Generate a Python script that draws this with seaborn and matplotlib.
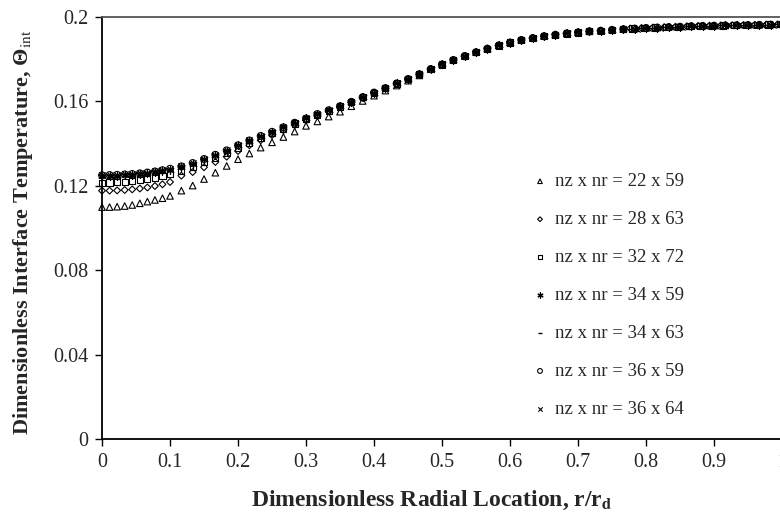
import matplotlib
import numpy as np
import pandas as pd

matplotlib.use("Agg")
import matplotlib.pyplot as plt
import seaborn as sns
from matplotlib.ticker import FixedLocator, FuncFormatter


# radial grid shared by all meshes up to r/rd ~ 0.77
r_near = [0.0, 0.0111, 0.0222, 0.0333, 0.0444, 0.0556, 0.0667, 0.0778, 0.0889, 0.1,
          0.1167, 0.1333, 0.15, 0.1667, 0.1833, 0.2, 0.2167, 0.2333, 0.25, 0.2667,
          0.2833, 0.3, 0.3167, 0.3333, 0.35, 0.3667, 0.3833, 0.4, 0.4167, 0.4333,
          0.45, 0.4667]
r_far = [0.4833, 0.5, 0.5167, 0.5333, 0.55, 0.5667, 0.5833, 0.6, 0.6167, 0.6333,
         0.65, 0.6667, 0.6833, 0.7, 0.7167, 0.7333, 0.75, 0.7667]

# near-edge points differ per mesh
edge_r_59 = [0.7833, 0.8, 0.8167, 0.8333, 0.85, 0.8667, 0.8833, 0.9, 0.9167, 0.9333,
             0.95, 0.9667, 0.9833, 1.0]
edge_r_63 = [0.7767, 0.7933, 0.81, 0.8267, 0.8433, 0.86, 0.8767, 0.8933, 0.91, 0.9267,
             0.9433, 0.96, 0.9767, 0.9933]
edge_r_72 = [0.78, 0.7967, 0.8133, 0.83, 0.8467, 0.8633, 0.88, 0.8967, 0.9133, 0.93,
             0.9467, 0.9633, 0.98, 0.9967]
edge_r_64 = [0.7867, 0.8033, 0.82, 0.8367, 0.8533, 0.87, 0.8867, 0.9033, 0.92, 0.9367,
             0.9533, 0.97, 0.9867, 1.0]

theta_far = [0.1753, 0.1775, 0.1796, 0.1815, 0.1833, 0.1850, 0.1865, 0.1879, 0.1891, 0.1900,
             0.1909, 0.1916, 0.1922, 0.1927, 0.1932, 0.1935, 0.1939, 0.1942]
theta_edge = [0.1945, 0.1948, 0.1950, 0.1952, 0.1954, 0.1956, 0.1958, 0.1959, 0.1960, 0.1961,
              0.1962, 0.1963, 0.1964, 0.1965]

theta_22x59 = [0.1099, 0.1099, 0.1101, 0.1104, 0.1109, 0.1117, 0.1125, 0.1133, 0.1141, 0.1152,
               0.1177, 0.1201, 0.1232, 0.1262, 0.1294, 0.1326, 0.1353, 0.1381, 0.1406, 0.1431,
               0.1457, 0.1484, 0.1505, 0.1528, 0.1551, 0.1577, 0.1602, 0.1627, 0.1651, 0.1675,
               0.1698, 0.1723]
theta_28x63 = [0.1177, 0.1177, 0.1178, 0.1180, 0.1183, 0.1187, 0.1192, 0.1199, 0.1207, 0.1218,
               0.1248, 0.1265, 0.1288, 0.1313, 0.1338, 0.1365, 0.1392, 0.1416, 0.1440, 0.1464,
               0.1488, 0.1510, 0.1533, 0.1553, 0.1573, 0.1595, 0.1617, 0.1640, 0.1661, 0.1683,
               0.1705, 0.1728]
theta_32x72 = [0.1215, 0.1216, 0.1217, 0.1219, 0.1222, 0.1226, 0.1231, 0.1238, 0.1246, 0.1256,
               0.1272, 0.1290, 0.1311, 0.1333, 0.1356, 0.1381, 0.1405, 0.1428, 0.1450, 0.1472,
               0.1495, 0.1516, 0.1537, 0.1556, 0.1576, 0.1597, 0.1619, 0.1641, 0.1663, 0.1685,
               0.1706, 0.1729]
theta_34 = [0.1246, 0.1247, 0.1248, 0.1250, 0.1252, 0.1255, 0.1259, 0.1264, 0.1270, 0.1277,
            0.1289, 0.1305, 0.1325, 0.1345, 0.1367, 0.1391, 0.1414, 0.1435, 0.1456, 0.1477,
            0.1499, 0.1519, 0.1540, 0.1558, 0.1577, 0.1598, 0.1620, 0.1642, 0.1663, 0.1685,
            0.1706, 0.1729]
theta_36 = [0.1250, 0.1251, 0.1252, 0.1254, 0.1256, 0.1259, 0.1263, 0.1268, 0.1274, 0.1281,
            0.1292, 0.1308, 0.1327, 0.1347, 0.1368, 0.1392, 0.1415, 0.1436, 0.1456, 0.1477,
            0.1499, 0.1519, 0.1540, 0.1558, 0.1577, 0.1598, 0.1620, 0.1642, 0.1663, 0.1685,
            0.1706, 0.1729]

labels = ["nz x nr = 22 x 59", "nz x nr = 28 x 63", "nz x nr = 32 x 72", "nz x nr = 34 x 59",
          "nz x nr = 34 x 63", "nz x nr = 36 x 59", "nz x nr = 36 x 64"]

x_ticks = [0, 0.1, 0.2, 0.3, 0.4, 0.5, 0.6, 0.7, 0.8, 0.9, 1.0]
y_ticks = [0, 0.04, 0.08, 0.12, 0.16, 0.2]


def build_frame() -> pd.DataFrame:
    series = [
        (labels[0], theta_22x59, edge_r_59),
        (labels[1], theta_28x63, edge_r_63),
        (labels[2], theta_32x72, edge_r_72),
        (labels[3], theta_34, edge_r_59),
        (labels[4], theta_34, edge_r_63),
        (labels[5], theta_36, edge_r_59),
        (labels[6], theta_36, edge_r_64),
    ]
    frames = []
    for label, near, edge_r in series:
        frames.append(pd.DataFrame({
            "r": r_near + r_far + edge_r,
            "theta": near + theta_far + theta_edge,
            "mesh": label,
        }))
    return pd.concat(frames, ignore_index=True)


def main() -> None:
    sns.set_theme(style="ticks")
    plt.rcParams["font.family"] = ["Liberation Serif", "DejaVu Serif"]
    plt.rcParams["mathtext.fontset"] = "stix"

    df = build_frame()
    styles = {
        labels[0]: dict(marker="^", facecolor="none", edgecolor="black", s=22, linewidth=0.8),
        labels[1]: dict(marker="D", facecolor="none", edgecolor="black", s=12, linewidth=0.8),
        labels[2]: dict(marker="s", facecolor="none", edgecolor="black", s=20, linewidth=0.8),
        labels[3]: dict(marker=(6, 2, 0), color="black", s=28, linewidth=0.9),
        labels[4]: dict(marker="_", color="black", s=20, linewidth=1.0),
        labels[5]: dict(marker="o", facecolor="none", edgecolor="black", s=24, linewidth=0.8),
        labels[6]: dict(marker="x", color="black", s=20, linewidth=0.8),
    }

    fig = plt.figure(figsize=(7.8, 5.12), dpi=100)
    ax = fig.add_axes([0.1308, 0.1426, 0.8718, 0.8242])

    for label in labels:
        sub = df[df["mesh"] == label]
        sns.scatterplot(data=sub, x="r", y="theta", ax=ax, label=label,
                        clip_on=False, **styles[label])

    ax.set_xlim(0, 1)
    ax.set_ylim(0, 0.2)
    ax.xaxis.set_major_locator(FixedLocator(x_ticks))
    ax.yaxis.set_major_locator(FixedLocator(y_ticks))
    ax.xaxis.set_major_formatter(FuncFormatter(lambda v, p: f"{v:g}"))
    ax.yaxis.set_major_formatter(FuncFormatter(lambda v, p: f"{v:g}"))
    ax.tick_params(axis="both", direction="out", length=5, width=1.0,
                   labelsize=14.5, color="black", pad=5)

    for side in ["left", "bottom"]:
        ax.spines[side].set_color("black")
        ax.spines[side].set_linewidth(1.3)
    ax.spines["top"].set_color("#555555")
    ax.spines["top"].set_linewidth(1.3)
    ax.spines["right"].set_visible(False)

    ax.set_xlabel(r"Dimensionless Radial Location, r/r$_{\mathbf{d}}$",
                  fontsize=17, fontweight="bold")
    ax.set_ylabel(r"Dimensionless Interface Temperature, Θ$_{\mathrm{int}}$",
                  fontsize=16, fontweight="bold")
    ax.xaxis.set_label_coords(0.485, -0.118)
    ax.yaxis.set_label_coords(-0.099, 0.49)

    ax.legend(loc="upper left", bbox_to_anchor=(0.6827, 0.662), bbox_transform=fig.transFigure,
              frameon=False, fontsize=13.5, labelspacing=1.11, handlelength=0.8,
              handletextpad=0.4, borderpad=0, borderaxespad=0, markerscale=0.7)

    fig.savefig("out.png", dpi=100)
    plt.close(fig)


if __name__ == "__main__":
    main()
